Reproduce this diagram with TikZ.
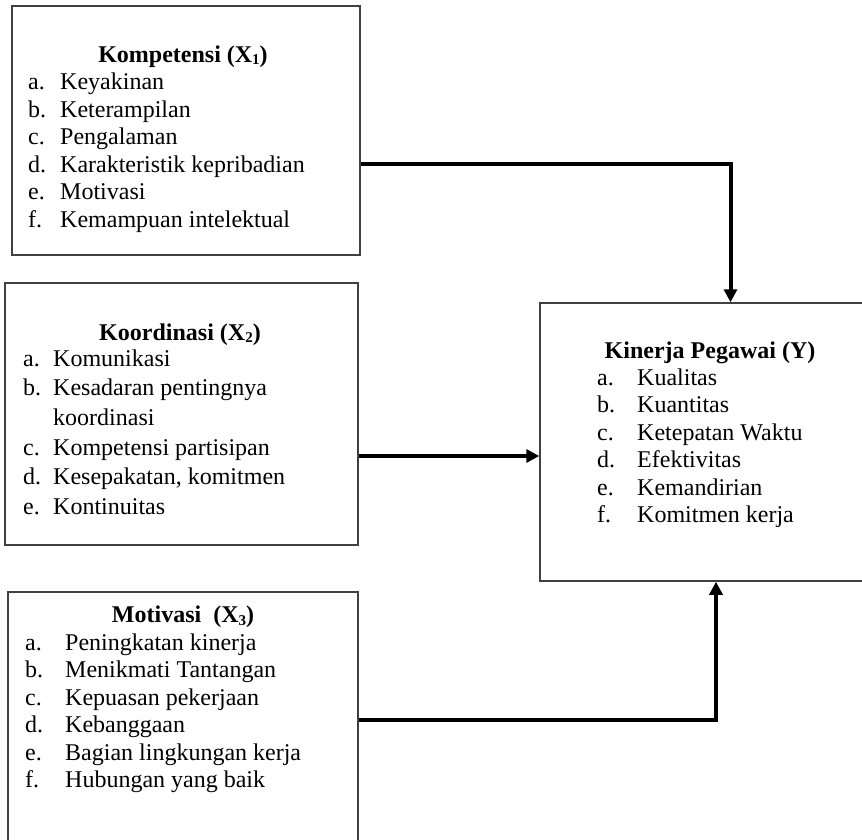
\documentclass[tikz,border=0pt]{standalone}
\usepackage{fontspec}
\setmainfont{Liberation Serif}
\usepackage{tikz}
\usetikzlibrary{arrows.meta}

\newcommand{\sub}[1]{\raisebox{-2.5pt}{\fontsize{15}{15}\selectfont #1}}

\tikzset{
  box/.style={draw=black!75, line width=1.5pt, inner sep=0pt},
  head/.style={anchor=base, inner sep=0pt, font=\fontsize{24}{27.5}\selectfont\bfseries},
  items/.style={anchor=base west, inner sep=0pt, font=\fontsize{24}{27.5}\selectfont},
  arr/.style={line width=4pt, -{Triangle[length=13pt,width=13pt]}}
}

\begin{document}
\begin{tikzpicture}[x=1pt, y=-1pt]
      \useasboundingbox (0,0) rectangle (862,840);
      \clip (0,0) rectangle (862,840);
      \fill[white] (0,0) rectangle (862,840);
      % boxes
      \node[box, minimum width=348pt, minimum height=249pt] (kom) at (186,130.5) {};
      \node[box, minimum width=353pt, minimum height=262pt] (kor) at (181.5,414) {};
      \node[box, minimum width=350pt, minimum height=253pt] (mot) at (183,718.5) {};
      \node[box, minimum width=330pt, minimum height=278pt] (kin) at (705,442) {};
      % Kompetensi
      \node[head] (kom-t) at (183,62.5) {Kompetensi (X\sub{1})};
      \node[items] (kom-l) at (28,90) {\begin{tabular}[t]{@{}p{32pt}@{}l@{}}
        a. & Keyakinan\\
        b. & Keterampilan\\
        c. & Pengalaman\\
        d. & Karakteristik kepribadian\\
        e. & Motivasi\\
        f. & Kemampuan intelektual
      \end{tabular}};
      % Koordinasi
      \node[head] (kor-t) at (180,340) {Koordinasi (X\sub{2})};
      \node[items] (kor-l) at (23,366) {\renewcommand{\arraystretch}{1.08}\begin{tabular}[t]{@{}p{30pt}@{}l@{}}
        a. & Komunikasi\\
        b. & Kesadaran pentingnya\\
           & koordinasi\\
        c. & Kompetensi partisipan\\
        d. & Kesepakatan, komitmen\\
        e. & Kontinuitas
      \end{tabular}};
      % Motivasi
      \node[head] (mot-t) at (183,622.5) {Motivasi\ \ (X\sub{3})};
      \node[items] (mot-l) at (25,650) {\begin{tabular}[t]{@{}p{40pt}@{}l@{}}
        a. & Peningkatan kinerja\\
        b. & Menikmati Tantangan\\
        c. & Kepuasan pekerjaan\\
        d. & Kebanggaan\\
        e. & Bagian lingkungan kerja\\
        f. & Hubungan yang baik
      \end{tabular}};
      % Kinerja
      \node[head] (kin-t) at (710,358) {Kinerja Pegawai (Y)};
      \node[items] (kin-l) at (597,385) {\begin{tabular}[t]{@{}p{40pt}@{}l@{}}
        a. & Kualitas\\
        b. & Kuantitas\\
        c. & Ketepatan Waktu\\
        d. & Efektivitas\\
        e. & Kemandirian\\
        f. & Komitmen kerja
      \end{tabular}};
      % arrows
      \draw[arr] ([yshift=-33.5pt]kom.east) -| ([xshift=25.5pt]kin.north);
      \draw[arr] ([yshift=-42pt]kor.east) -- ([yshift=-42pt]kor.east -| kin.west);
      \draw[arr] ([yshift=-1.5pt]mot.east) -| ([xshift=11pt]kin.south);
\end{tikzpicture}
\end{document}
